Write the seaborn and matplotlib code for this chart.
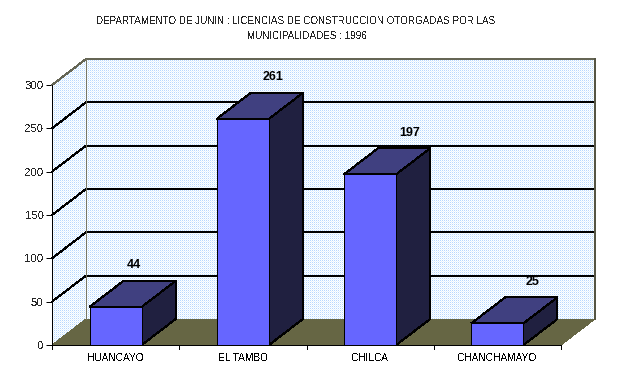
import numpy as np
import pandas as pd
import seaborn as sns
import matplotlib
matplotlib.use('Agg')
import matplotlib.pyplot as plt
from matplotlib.patches import Polygon

municipios = ['HUANCAYO', 'EL TAMBO', 'CHILCA', 'CHANCHAMAYO']
licencias = [44, 261, 197, 25]
y_ticks = [0, 50, 100, 150, 200, 250, 300]
# the value labels are not placed evenly in the original (pixels from bar right edge)
label_shift = [-8, 4, 13, 9]

W, H = 619, 380
# depth of the fake 3D box, in data units
DX = 0.267
DY = 30
PX = 4 / 509
# one pixel line at dpi 100
LW = 0.72

sns.set_style('white')
plt.rcParams['font.family'] = ['Liberation Sans', 'DejaVu Sans']
plt.rcParams['text.antialiased'] = False
plt.rcParams['lines.antialiased'] = False
plt.rcParams['patch.antialiased'] = False

df = pd.DataFrame({'municipio': municipios, 'licencias': licencias})

fig = plt.figure(figsize=(W / 100, H / 100), dpi=100, facecolor='white')
ax = fig.add_axes([52 / W, 1 - 345 / H, 509 / W, 260 / H])
ax.patch.set_alpha(0)

sns.barplot(data=df, x='municipio', y='licencias', color='#6666ff', saturation=1,
            width=0.41, edgecolor='black', linewidth=LW, ax=ax, zorder=5)

ax.set_xlim(-0.5, 3.5)
ax.set_ylim(0, 300)
x0, x1 = ax.get_xlim()

# back and side wall, dithered pixel by pixel like the original
dots = np.ones((H, W, 3))
dots[::2, ::2] = [0.72, 0.85, 1.0]
dots[1::2, 1::2] = [0.90, 0.96, 1.0]
wall = fig.figimage(dots, zorder=-1, resize=False)
wall.set_clip_path(Polygon([(x0, 0), (x0 + DX, DY), (x1 + DX, DY), (x1 + DX, 300 + DY),
                            (x0 + DX, 300 + DY), (x0, 300)], closed=True, transform=ax.transData))

# floor
ax.add_patch(Polygon([(x0, 0), (x1, 0), (x1 + DX, DY), (x0 + DX, DY)], closed=True,
                     facecolor='#666644', edgecolor='none', zorder=1, clip_on=False))

# gridlines wrap around side and back walls
for t in y_ticks[1:]:
    col = '#666655' if t == 300 else 'black'
    ax.plot([x0, x0 + DX, x1 + DX], [t, t + DY, t + DY], color=col, lw=LW,
            zorder=2, clip_on=False)
ax.plot([x0 + DX, x0 + DX], [DY, 300 + DY], color='#777766', lw=LW, zorder=2, clip_on=False)
ax.plot([x1 + DX, x1 + DX], [DY, 300 + DY], color='#555544', lw=1.4, zorder=2, clip_on=False)

# top and side of each bar, then the value label
for bar, val, shift in zip(ax.patches, licencias, label_shift):
    l, r = bar.get_x(), bar.get_x() + bar.get_width()
    ax.add_patch(Polygon([(l, val), (r, val), (r + DX, val + DY), (l + DX, val + DY)], closed=True,
                         facecolor='#404080', edgecolor='black', lw=LW, zorder=4, clip_on=False))
    ax.add_patch(Polygon([(r, 0), (r + DX, DY), (r + DX, val + DY), (r, val)], closed=True,
                         facecolor='#202040', edgecolor='black', lw=LW, zorder=4, clip_on=False))
    ax.text(r + shift * PX, val + DY + 11, str(val), ha='center', va='bottom', fontsize=9,
            fontweight='bold', color='black', antialiased=True, zorder=6, clip_on=False)

ax.set_xlabel('')
ax.set_ylabel('')
ax.set_yticks(y_ticks)
ax.set_xticks(range(len(municipios)))
ax.set_xticklabels(municipios, fontsize=7.3, color='black')
ax.tick_params(axis='x', length=0, pad=6)
ax.tick_params(axis='y', length=4, width=LW, color='black', labelsize=8.2, pad=2, left=True)
for x in [-0.5, 0.5, 1.5, 2.5, 3.5]:
    ax.plot([x, x], [0, -5], color='black', lw=LW, clip_on=False, zorder=6)
for s in ['top', 'right']:
    ax.spines[s].set_visible(False)
for s in ['left', 'bottom']:
    ax.spines[s].set_color('black')
    ax.spines[s].set_linewidth(LW)
    ax.spines[s].set_zorder(7)

fig.text(296 / W, 1 - 21 / H, 'DEPARTAMENTO DE JUNIN : LICENCIAS DE CONSTRUCCION OTORGADAS POR LAS',
         ha='center', va='center', fontsize=7.15)
fig.text(307 / W, 1 - 36 / H, 'MUNICIPALIDADES : 1996', ha='center', va='center', fontsize=7.15)

fig.savefig('out.png', dpi=100, facecolor='white')
